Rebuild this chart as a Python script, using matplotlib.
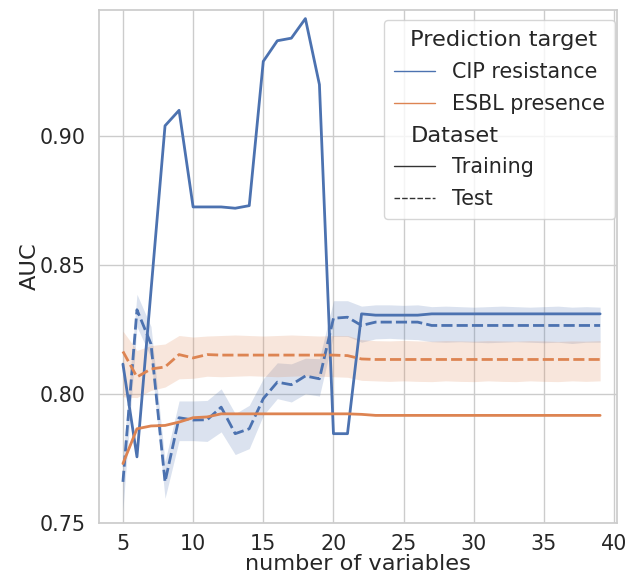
import matplotlib
matplotlib.use("Agg")
import matplotlib.pyplot as plt
import seaborn as sns
from matplotlib.lines import Line2D
import matplotlib.offsetbox as moffsetbox

# ── Data ─────────────────────────────────────────────────────────────────
n_vars = list(range(5, 40))

cip_train = [0.8115, 0.7755, 0.8400, 0.9040, 0.9100, 0.8725, 0.8725, 0.8725,
             0.8720, 0.8730, 0.9290, 0.9370, 0.9380, 0.9456, 0.9200, 0.7845,
             0.7845, 0.8310, 0.8305, 0.8305, 0.8305, 0.8305, 0.8310, 0.8310,
             0.8310, 0.8310, 0.8310, 0.8310, 0.8310, 0.8310, 0.8310, 0.8310,
             0.8310, 0.8310, 0.8310]
cip_test = [0.7658, 0.8326, 0.8193, 0.7658, 0.7907, 0.7898, 0.7899, 0.7948,
            0.7845, 0.7864, 0.7981, 0.8045, 0.8035, 0.8069, 0.8058, 0.8293,
            0.8297, 0.8265, 0.8278, 0.8278, 0.8278, 0.8278, 0.8265, 0.8265,
            0.8265, 0.8265, 0.8265, 0.8265, 0.8265, 0.8265, 0.8265, 0.8265,
            0.8265, 0.8265, 0.8265]
cip_test_lo = [0.7550, 0.8260, 0.8140, 0.7594, 0.7818, 0.7818, 0.7815, 0.7852,
               0.7764, 0.7787, 0.7916, 0.7981, 0.7968, 0.8000, 0.7991, 0.8223,
               0.8223, 0.8200, 0.8213, 0.8215, 0.8212, 0.8210, 0.8202, 0.8200,
               0.8202, 0.8200, 0.8198, 0.8200, 0.8202, 0.8200, 0.8198, 0.8200,
               0.8195, 0.8200, 0.8200]
cip_test_hi = [0.7750, 0.8386, 0.8261, 0.7737, 0.7972, 0.7972, 0.7974, 0.8019,
               0.7923, 0.7955, 0.8058, 0.8120, 0.8116, 0.8138, 0.8136, 0.8361,
               0.8361, 0.8340, 0.8345, 0.8345, 0.8343, 0.8345, 0.8338, 0.8340,
               0.8338, 0.8336, 0.8338, 0.8340, 0.8338, 0.8336, 0.8338, 0.8340,
               0.8336, 0.8338, 0.8336]

esbl_train = [0.7729, 0.7864, 0.7875, 0.7877, 0.7890, 0.7907, 0.7910, 0.7922,
              0.7922, 0.7922, 0.7922, 0.7922, 0.7922, 0.7922, 0.7922, 0.7922,
              0.7922, 0.7920, 0.7916, 0.7916, 0.7916, 0.7916, 0.7916, 0.7916,
              0.7916, 0.7916, 0.7916, 0.7916, 0.7916, 0.7916, 0.7916, 0.7916,
              0.7916, 0.7916, 0.7916]
esbl_test = [0.8164, 0.8065, 0.8096, 0.8104, 0.8152, 0.8139, 0.8152, 0.8150,
             0.8150, 0.8150, 0.8150, 0.8150, 0.8150, 0.8150, 0.8150, 0.8150,
             0.8148, 0.8135, 0.8133, 0.8133, 0.8133, 0.8133, 0.8133, 0.8133,
             0.8133, 0.8133, 0.8133, 0.8133, 0.8133, 0.8133, 0.8133, 0.8133,
             0.8133, 0.8133, 0.8133]
esbl_test_lo = [0.7988, 0.7985, 0.8013, 0.8026, 0.8058, 0.8060, 0.8068, 0.8066,
                0.8068, 0.8070, 0.8068, 0.8066, 0.8068, 0.8070, 0.8068, 0.8066,
                0.8064, 0.8052, 0.8050, 0.8048, 0.8050, 0.8048, 0.8047, 0.8050,
                0.8048, 0.8047, 0.8050, 0.8048, 0.8047, 0.8050, 0.8048, 0.8047,
                0.8050, 0.8048, 0.8050]
esbl_test_hi = [0.8243, 0.8168, 0.8187, 0.8193, 0.8226, 0.8220, 0.8224, 0.8226,
                0.8228, 0.8226, 0.8224, 0.8226, 0.8228, 0.8226, 0.8224, 0.8226,
                0.8226, 0.8210, 0.8206, 0.8205, 0.8207, 0.8205, 0.8204, 0.8206,
                0.8205, 0.8204, 0.8206, 0.8205, 0.8204, 0.8206, 0.8205, 0.8203,
                0.8205, 0.8204, 0.8206]

target_labels = ["CIP resistance", "ESBL presence"]
dataset_labels = ["Training", "Test"]

# ── Style ────────────────────────────────────────────────────────────────
sns.set_theme(style="whitegrid", font_scale=1.35)
palette = sns.color_palette("deep")
c_cip, c_esbl = palette[0], palette[1]
test_dash = (4, 1.5)
lw = 2.0

fig = plt.figure(figsize=(6.27, 5.78), dpi=100)
ax = fig.add_axes([0.158, 0.095, 0.826, 0.888])

# confidence bands first, then the lines on top
ax.fill_between(n_vars, cip_test_lo, cip_test_hi, color=c_cip, alpha=0.2, lw=0)
ax.fill_between(n_vars, esbl_test_lo, esbl_test_hi, color=c_esbl, alpha=0.2, lw=0)

ax.plot(n_vars, cip_train, color=c_cip, lw=lw)
ax.plot(n_vars, cip_test, color=c_cip, lw=lw, dashes=test_dash)
ax.plot(n_vars, esbl_train, color=c_esbl, lw=lw)
ax.plot(n_vars, esbl_test, color=c_esbl, lw=lw, dashes=test_dash)

ax.set_xlim(3.3, 40.2)
ax.set_ylim(0.7498, 0.949)
ax.set_xticks([5, 10, 15, 20, 25, 30, 35, 40])
ax.set_yticks([0.75, 0.80, 0.85, 0.90])
ax.tick_params(axis="x", pad=2)
ax.set_xlabel("number of variables", labelpad=0)
ax.set_ylabel("AUC", labelpad=0)

# ── Legend with seaborn-like subtitles ───────────────────────────────────
def _subtitle(text):
    h = Line2D([], [], label=text)
    h.set_visible(False)
    return h

handles = [
    _subtitle("Prediction target"),
    Line2D([], [], color=c_cip, lw=1.0, label=target_labels[0]),
    Line2D([], [], color=c_esbl, lw=1.0, label=target_labels[1]),
    _subtitle("Dataset"),
    Line2D([], [], color=".2", lw=1.0, label=dataset_labels[0]),
    Line2D([], [], color=".2", lw=1.0, dashes=test_dash, label=dataset_labels[1]),
]
leg = ax.legend(handles=handles, loc="upper right",
                bbox_to_anchor=(615 / 627, 1 - 20 / 578),
                bbox_transform=fig.transFigure, borderaxespad=0,
                labelspacing=0.57, borderpad=0.5)

title_size = plt.rcParams.get("legend.title_fontsize")
for hpack in leg.findobj(moffsetbox.VPacker)[0].get_children():
    draw_area, text_area = hpack.get_children()
    if not all(a.get_visible() for a in draw_area.get_children()):
        draw_area.set_width(0)
        for t in text_area.get_children():
            t.set_size(title_size)

fig.savefig("out.png", dpi=100)
